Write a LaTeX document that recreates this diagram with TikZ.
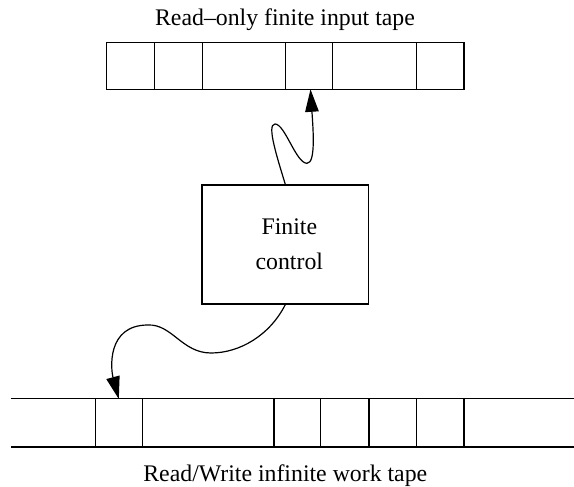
\documentclass[tikz,border=0pt]{standalone}
\usepackage{fontspec}
\setmainfont{Liberation Serif}
\usetikzlibrary{arrows.meta}
\tikzset{
  ln/.style={line width=1.2bp, line join=miter},
  lbl/.style={font=\fontsize{23.8bp}{35bp}\selectfont, inner sep=0pt},
  headarrow/.style={ln, -{Triangle[length=22.5bp,width=13.5bp]}},
}
\begin{document}
\begin{tikzpicture}[x=1bp,y=-1bp]
\useasboundingbox (0,0) rectangle (574,487);
% input tape
\node[ln, draw, minimum width=357.3bp, minimum height=46.6bp, inner sep=0pt] (intape) at (285.35,66) {};
\foreach \x in {154.3,202.3,285.7,332.7,416.7}
  \draw[ln] (\x,42.7) -- (\x,89.3);
\node[lbl, anchor=base] (intitle) at (285,26) {Read–only finite input tape};
\coordinate (inhead) at (310.5,89.3);
% finite control
\node[ln, draw, minimum width=166.7bp, minimum height=119bp, lbl, align=center, inner sep=0pt] (ctrl) at (285.3,244.5) {\hspace*{8bp}Finite\\\hspace*{8bp}control};
% work tape
\node[minimum width=562.3bp, minimum height=47.7bp, inner sep=0pt] (wtape) at (292.85,422.85) {};
\draw[ln] (wtape.north west) -- (wtape.north east);
\draw[ln] (wtape.south west) -- (wtape.south east);
\foreach \x in {95.7,142.7,274,320.7,369,416.7,464}
  \draw[ln] (\x,399) -- (\x,446.7);
\node[lbl, anchor=base] (wtitle) at (285.3,481.5) {Read/Write infinite work tape};
\coordinate (whead) at (118.8,399);
% connectors
\draw[headarrow] (ctrl.north) .. controls (278,160) and (266,124) .. (275,124)
  .. controls (285,124) and (296,163.3) .. (307,163.3)
  .. controls (316,163.3) and (313,128) .. (inhead);
\draw[headarrow] (ctrl.south) .. controls (270,335) and (240,353) .. (211,353)
  .. controls (182,353) and (172,324) .. (148,325)
  .. controls (106,325) and (111,370) .. (whead);
\end{tikzpicture}
\end{document}
